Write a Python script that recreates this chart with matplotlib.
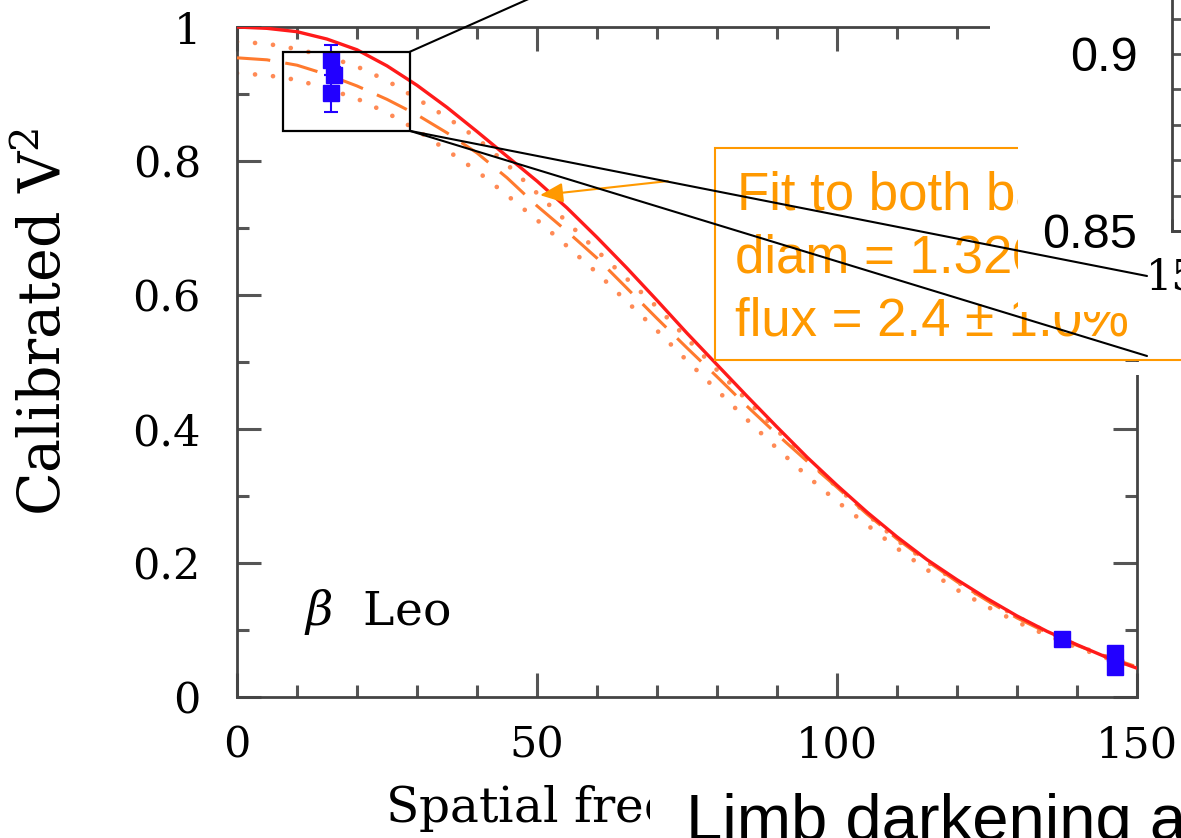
import matplotlib
matplotlib.use("Agg")
import matplotlib.pyplot as plt
from matplotlib.patches import Rectangle, ConnectionPatch

# ---------------- data ----------------
x_model = [0, 5, 10, 15, 20, 25, 30, 35, 40, 45, 50, 55, 60, 65, 70, 75, 80, 85, 90, 95,
           100, 105, 110, 115, 120, 125, 130, 135, 140, 145, 150]
v2_ud = [1.000, 0.998, 0.993, 0.982, 0.966, 0.942, 0.913, 0.880, 0.844, 0.807, 0.770, 0.730,
         0.686, 0.640, 0.592, 0.543, 0.496, 0.449, 0.403, 0.358, 0.316, 0.276, 0.239, 0.205,
         0.175, 0.147, 0.121, 0.098, 0.078, 0.059, 0.043]
v2_fit = [0.954, 0.951, 0.943, 0.929, 0.912, 0.892, 0.869, 0.842, 0.812, 0.775, 0.733, 0.695,
          0.655, 0.610, 0.565, 0.521, 0.478, 0.434, 0.392, 0.352, 0.313, 0.273, 0.236, 0.203,
          0.172, 0.144, 0.118, 0.096, 0.077, 0.060, 0.045]
v2_hi = [0.978, 0.975, 0.967, 0.956, 0.941, 0.920, 0.893, 0.865, 0.834, 0.795, 0.752, 0.709,
         0.666, 0.624, 0.582, 0.535, 0.488, 0.443, 0.398, 0.355, 0.313, 0.273, 0.234, 0.202,
         0.172, 0.145, 0.120, 0.097, 0.077, 0.060, 0.045]
v2_lo = [0.931, 0.928, 0.921, 0.908, 0.893, 0.872, 0.846, 0.816, 0.785, 0.749, 0.712, 0.673,
         0.633, 0.590, 0.547, 0.502, 0.458, 0.414, 0.371, 0.330, 0.292, 0.257, 0.222, 0.190,
         0.160, 0.135, 0.112, 0.092, 0.074, 0.058, 0.043]

x_obs = [15.6, 16.1, 15.6, 137.5, 146.3, 146.3]
v2_obs = [0.951, 0.928, 0.901, 0.087, 0.066, 0.045]
err_obs = [0.022, 0.012, 0.028, 0.004, 0.004, 0.004]

zoom_x = (7.7, 28.8)
zoom_y = (0.845, 0.963)

x_major = [0, 50, 100, 150]
x_major_labels = ["0", "50", "100", "150"]
y_major = [0, 0.2, 0.4, 0.6, 0.8, 1.0]
y_major_labels = ["0", "0.2", "0.4", "0.6", "0.8", "1"]

inset_y_major = [0.85, 0.9]
inset_y_labels = ["0.85", "0.9"]
inset_x_major = [15]
inset_x_labels = ["15"]

box_lines = ["Fit to both bands", "diam = 1.320 \u00b1 0.006 mas", "flux = 2.4 \u00b1 1.0%"]
bottom_title = "Limb darkening and flux excess"

# ---------------- styling ----------------
plt.rcParams["font.family"] = ["DejaVu Serif"]
plt.rcParams["mathtext.fontset"] = "dejavuserif"
plt.rcParams["lines.scale_dashes"] = False

W, H = 1181, 838
fig = plt.figure(figsize=(W / 100, H / 100), dpi=100)
fig.patch.set_facecolor("white")


def fx(p):
    return p / W


def fy(p):
    return 1 - p / H


ORANGE = "#ff9900"
ax = fig.add_axes([fx(237), fy(697), 900 / W, 670 / H])
ax.set_xlim(0, 150)
ax.set_ylim(0, 1)

ax.plot(x_model, v2_hi, color="#ff8a55", lw=3.4, dashes=(0.01, 13), dash_capstyle="round", zorder=2)
ax.plot(x_model, v2_lo, color="#ff8a55", lw=3.4, dashes=(0.01, 13), dash_capstyle="round", zorder=2)
ax.plot(x_model, v2_fit, color="#ff7a2e", lw=2.2, dashes=(24, 11), zorder=3)
ax.plot(x_model, v2_ud, color="#ff1a1a", lw=2.4, zorder=4)

ax.errorbar(x_obs, v2_obs, yerr=err_obs, fmt="s", color="#2200ff", ms=12, mec="#2200ff",
            capsize=5, elinewidth=1.5, capthick=1.5, zorder=6)

ax.add_patch(Rectangle((zoom_x[0], zoom_y[0]), zoom_x[1] - zoom_x[0], zoom_y[1] - zoom_y[0],
                       fill=False, ec="black", lw=1.6, zorder=7))

ax.text(11.2, 0.107, r"$\beta$  Leo", fontsize=34, va="baseline")

ax.annotate("", xy=(50.5, 0.749), xytext=(71.8, 0.770),
            arrowprops=dict(arrowstyle="-|>,head_length=1.4,head_width=0.6",
                            color=ORANGE, lw=1.5, shrinkA=0, shrinkB=0), zorder=8)

ax.set_xticks(x_major)
ax.set_xticklabels(x_major_labels)
ax.set_xticks(range(0, 151, 10), minor=True)
ax.set_yticks(y_major)
ax.set_yticklabels(y_major_labels)
ax.set_yticks([i / 10 for i in range(11)], minor=True)
ax.tick_params(which="both", direction="in", top=True, right=True, color="#555555", width=2.2)
ax.tick_params(which="major", length=17, labelsize=31)
ax.tick_params(which="minor", length=8.5)
ax.tick_params(axis="x", which="major", pad=20)
ax.tick_params(axis="y", which="major", pad=26)
for s in ax.spines.values():
    s.set_color("#444444")
    s.set_linewidth(2.0)

ax.set_ylabel("Calibrated V$^2$", fontsize=41)
ax.yaxis.set_label_coords(-(237 - 45) / 900, 0.56)
ax.yaxis.label.set_va("center")

fig.text(fx(385), fy(822), "Spatial frequency (10$^6$ cycles/rad)", fontsize=35, va="baseline")

# annotation box
fig.add_artist(Rectangle((fx(715), fy(360)), (1300 - 715) / W, 212 / H, transform=fig.transFigure,
                         fc="white", ec=ORANGE, lw=1.5, clip_on=False, zorder=1))
for txt, xx, yy in zip(box_lines, [737, 735, 735], [210, 272, 335]):
    fig.text(fx(xx), fy(yy), txt, fontsize=38, color=ORANGE, family=["Liberation Sans"],
             va="baseline", zorder=1.5)

# white covers from the overlapping inset
fig.add_artist(Rectangle((fx(990), fy(146)), 260 / W, 170 / H, transform=fig.transFigure,
                         fc="white", ec="none", zorder=2))
fig.add_artist(Rectangle((fx(1018), fy(312)), 232 / W, 167 / H, transform=fig.transFigure,
                         fc="white", ec="none", zorder=2))
fig.add_artist(Rectangle((fx(1100), fy(375)), 150 / W, 13 / H, transform=fig.transFigure,
                         fc="white", ec="none", zorder=2))

# zoom connector lines
for (cx, cy), (px, py) in [((zoom_x[1], zoom_y[1]), (560, -15)),
                           ((zoom_x[1], zoom_y[0]), (1147, 276)),
                           ((zoom_x[1], zoom_y[0]), (1147, 356))]:
    cp = ConnectionPatch(xyA=(cx, cy), coordsA=ax.transData, xyB=(fx(px), fy(py)),
                         coordsB=fig.transFigure, color="black", lw=1.5, zorder=3)
    fig.add_artist(cp)

# inset axes (mostly outside the picture)
ins = fig.add_axes([fx(1172), fy(231), 0.2, 281 / H], zorder=4)
ins.set_facecolor("white")
ins.set_ylim(0.85, 0.85 + 281 / 3540)
ins.set_xlim(15, 25)
ins.set_yticks(inset_y_major)
ins.set_yticklabels(inset_y_labels, fontfamily="Liberation Sans", fontsize=35)
ins.set_yticks([0.86, 0.87, 0.88, 0.89, 0.91, 0.92], minor=True)
ins.set_xticks(inset_x_major)
ins.set_xticklabels(inset_x_labels, fontsize=30)
ins.tick_params(which="both", direction="in", length=9, width=2, color="#555555")
ins.tick_params(axis="y", pad=25)
ins.tick_params(axis="x", pad=18)
for s in ins.spines.values():
    s.set_color("#444444")
    s.set_linewidth(2.0)

# slide title overlapping the bottom
fig.add_artist(Rectangle((fx(650), 0), 600 / W, (838 - 778) / H, transform=fig.transFigure,
                         fc="white", ec="none", zorder=5))
fig.text(fx(686), fy(840), bottom_title, fontsize=47, family=["Liberation Sans"],
         va="baseline", color="black", zorder=6)

fig.savefig("out.png", dpi=100)
